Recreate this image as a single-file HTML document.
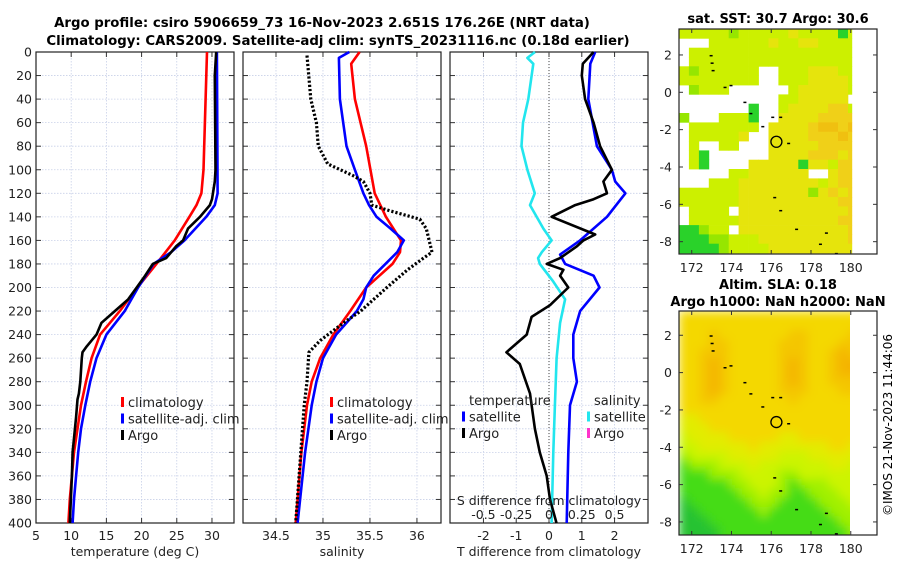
<!DOCTYPE html>
<html><head><meta charset="utf-8"><style>
html,body{margin:0;padding:0;background:#fff}
svg{display:block;font-family:"DejaVu Sans","Liberation Sans",sans-serif}
</style></head><body>
<svg id="fig" width="900" height="580" viewBox="0 0 900 580" xmlns="http://www.w3.org/2000/svg">
<defs>
<filter id="blur" x="-5%" y="-5%" width="110%" height="110%"><feGaussianBlur stdDeviation="5"/></filter>
<clipPath id="slaclip"><rect x="679" y="311" width="171" height="224"/></clipPath>
</defs>
<text x="322" y="27" text-anchor="middle" font-size="13.3" font-weight="bold">Argo profile: csiro 5906659_73 16-Nov-2023 2.651S 176.26E (NRT data)</text>
<text x="338" y="45" text-anchor="middle" font-size="13.3" font-weight="bold">Climatology: CARS2009. Satellite-adj clim: synTS_20231116.nc (0.18d earlier)</text>
<text x="778" y="23" text-anchor="middle" font-size="13" font-weight="bold">sat. SST: 30.7 Argo: 30.6</text>
<text x="778" y="289" text-anchor="middle" font-size="13" font-weight="bold">Altim. SLA: 0.18</text>
<text x="778" y="306" text-anchor="middle" font-size="13" font-weight="bold">Argo h1000: NaN h2000: NaN</text>
<text transform="translate(892,425) rotate(-90)" text-anchor="middle" font-size="12">©IMOS 21-Nov-2023 11:44:06</text>
<g id="g"></g>
</svg>
<script>
// ---- data ----
const depthTicks=[0,20,40,60,80,100,120,140,160,180,200,220,240,260,280,300,320,340,360,380,400];
const tTicks=[5,10,15,20,25,30];
const sTicks=[34.5,35,35.5,36];
const dTTicks=[-2,-1,0,1,2];
const dSTicks=[-0.5,-0.25,0,0.25,0.5];
const climTDepth=[0,100,120,130,140,160,180,200,220,240,260,280,300,320,340,360,380,400];
const climT=[29.3,28.8,28.5,27.8,26.8,24.7,22.1,19.4,16.9,14.1,12.9,12.1,11.4,10.9,10.4,10.1,9.8,9.6];
const satTDepth=[0,120,130,140,160,170,180,200,220,240,260,280,300,320,340,360,380,400];
const satT=[30.7,30.8,30.4,29.2,26.1,24.2,21.7,19.5,17.6,15.0,13.6,12.7,12.0,11.4,11.0,10.7,10.4,10.2];
const argoTDepth=[0,20,100,110,125,130,140,150,160,165,175,180,190,200,210,220,230,240,250,255,260,280,290,295,310,340,360,400];
const argoT=[30.6,30.4,30.5,30.4,30.0,29.7,28.3,26.6,25.9,24.9,23.5,21.6,20.5,19.3,18.1,16.2,14.3,13.6,12.2,11.6,11.5,11.3,11.1,10.9,10.7,10.2,10.1,9.8];
const climSDepth=[0,10,40,80,120,140,160,170,180,190,200,220,240,260,280,300,340,400];
const climS=[35.39,35.30,35.34,35.46,35.55,35.67,35.83,35.82,35.74,35.60,35.46,35.29,35.11,34.97,34.88,34.83,34.77,34.71];
const satSDepth=[0,5,40,80,100,120,130,140,150,160,170,190,200,210,220,240,260,280,300,340,400];
const satS=[35.28,35.17,35.18,35.25,35.34,35.43,35.49,35.57,35.72,35.86,35.79,35.54,35.46,35.43,35.36,35.14,35.00,34.93,34.88,34.81,34.73];
const argoSDepth=[3,40,60,80,95,105,110,120,130,135,142,150,170,175,185,200,220,230,245,255,280,300,400];
const argoS=[34.83,34.87,34.93,34.95,35.05,35.32,35.43,35.5,35.52,35.72,36.03,36.1,36.16,36.07,35.9,35.68,35.40,35.22,34.97,34.85,34.83,34.8,34.71];
const dSDepth=[0,5,10,40,60,80,100,120,130,150,160,170,175,180,195,210,230,260,300,340,400];
const dS=[-0.107,-0.165,-0.12,-0.158,-0.198,-0.21,-0.165,-0.108,-0.145,-0.043,0.02,-0.055,-0.083,-0.07,0.033,0.123,0.085,0.058,0.045,0.033,0.02];
const dTsatDepth=[0,10,40,80,100,110,120,140,160,172,180,190,200,220,240,260,280,300,340,400];
const dTsat=[1.41,1.26,1.2,1.46,1.92,2.02,2.33,1.77,0.95,0.34,0.49,1.36,1.54,0.95,0.74,0.74,0.85,0.64,0.59,0.54];
const dTargoDepth=[0,10,20,40,60,80,100,110,120,125,130,140,155,160,165,175,180,185,190,200,215,225,240,255,265,290,320,340,360,380,400];
const dTargo=[1.36,1.03,1.0,1.1,1.36,1.56,1.92,1.66,1.77,1.36,0.8,0.08,1.41,1.05,0.85,0.34,-0.07,0.44,0.34,0.59,0.03,-0.53,-0.68,-1.3,-0.89,-0.58,-0.43,-0.28,-0.07,0.03,0.23];
const lonTicks=[172,174,176,178,180];
const latTicks=[2,0,-2,-4,-6,-8];
const sstRows=["yyyyygyyyyyYyyyyGy","WWWyyyyyyYyyYYyyyy","Wyyyyyyyyyyyyyyyyy","Wyyyyyyyyyyyyyyyyy","ygyyyyyyWWyyyYYYyy","yyyyyyyyWWyyyYYYYy","WgyyyWWWWWWyYYYYYy","WWWWWWWWWWyyYYYYYW","WWWWWWWGWWyYYYYooy","gWWWyyyGWWYYYYoooo","WyyyyyyyWYYYYoOOoO","WyyyyyYWWYYYYoooOo","WyWWyyWWWYYYYYoooo","WyGWWWWWWYYYYoooYo","WyGWWWWYYYYYGYYyoo","WWWWWyyYYYYYYWWYoo","WWWyyyYYYYYYYYyYoo","yyyyyyYYYYYYYgYoYo","yyyyyyYYYYYYYYYYoo","WyyyyWYYYYYYYYYYYo","WyyyyyYYYYYYYYYYoo","GGgyyWYYYYYYYYYYYo","GGGggyyyYYYYYYYYYo","GGGGgyyyyYYYYYYYYY"];
const slaRows=["YYYYYYYYYYYYYYYYYY","YYYYYYYYYYYYYYYYYY","YYYoYYYYYYYooYYYYo","YYYooYYYYYoooYYYoo","YYoooYYYYYoooYYoOo","YYoOoYYYYYoOoYYoOO","YYoOoYYYYYoOoYYoOO","YYoOoYYYYYoOoYYooo","YYoOoYYYYYoooYYYoo","YYooYYYYYYYoYYYYYY","YYYYYYYYYYYYYYYYYY","yyYYYYYYYYYYYYYYYY","yyyYYYYYYYYYYYYYYY","lyyyyYYYYYyyYYYYYY","llyyyyyYyyyyyyyYYy","gllllyyyyylllyyyyy","Gggglllylllllllyyl","GGGgggllllgglllll","GGGGGgglllgGggglll","GGGGGGgglggGGgggll","DGGGGGGgggGGGGgggl","DDGGGGGGgGGGGGGggg","DDDGGGGGGGGGGGGGgg","DDDDGGGGGGGGGGGGGg"];
const argoLon=176.26, argoLat=-2.65;
// ---- helpers ----
const NS="http://www.w3.org/2000/svg";const G=document.getElementById('g');
function el(t,a,p){const e=document.createElementNS(NS,t);for(const k in a)e.setAttribute(k,a[k]);(p||G).appendChild(e);return e;}
const yTop=52,yBot=523;const yD=d=>yTop+d*(yBot-yTop)/400;
function panel(x0,x1,xmin,xmax,name){
  const sx=v=>x0+(v-xmin)/(xmax-xmin)*(x1-x0);
  const g=el('g',{});
  return {sx,g,x0,x1};
}
function frameAndGrid(P,xt,label,showDepth){
  for(const d of depthTicks){const y=yD(d);
    const l=el('line',{x1:P.x0,x2:P.x1,y1:y,y2:y,stroke:'#c8d0e8','stroke-width':0.8,'stroke-dasharray':'1.5,1.5'},P.g);
    el('line',{x1:P.x0,x2:P.x0+5,y1:y,y2:y,stroke:'#333'},P.g);el('line',{x1:P.x1-5,x2:P.x1,y1:y,y2:y,stroke:'#333'},P.g);
    if(showDepth){const t=el('text',{x:P.x0-4,y:y+4.5,'text-anchor':'end','font-size':12.5,fill:'#222'},P.g);t.textContent=d;}
  }
  for(const v of xt){const x=P.sx(v);
    const l=el('line',{x1:x,x2:x,y1:yTop,y2:yBot,stroke:'#c8d0e8','stroke-width':0.8,'stroke-dasharray':'1.5,1.5'},P.g);
    el('line',{x1:x,x2:x,y1:yBot,y2:yBot-5,stroke:'#333'},P.g);el('line',{x1:x,x2:x,y1:yTop,y2:yTop+5,stroke:'#333'},P.g);
    const t=el('text',{x:x,y:yBot+17,'text-anchor':'middle','font-size':12.5,fill:'#222'},P.g);t.textContent=v;
  }
  const r=el('rect',{x:P.x0,y:yTop,width:P.x1-P.x0,height:yBot-yTop,fill:'none',stroke:'#222','stroke-width':1.2},P.g);
  const t=el('text',{x:(P.x0+P.x1)/2,y:556,'text-anchor':'middle','font-size':12.5,fill:'#222'},P.g);t.textContent=label;
}
function line(P,vals,depths,color,name,dash,sxf){
  const f=sxf||P.sx;let d='';vals.forEach((v,i)=>{d+=(i?'L':'M')+f(v).toFixed(1)+','+yD(depths[i]).toFixed(1);});
  const p=el('path',{d:d,fill:'none',stroke:color,'stroke-width':dash?3.2:2.6,'stroke-linejoin':'round'},P.g);
  if(dash)p.setAttribute('stroke-dasharray',dash);
  
}
function legend(P,x,y,items){
  items.forEach((it,i)=>{const yy=y+i*16.5;
    const g=el('g',{},P.g);
    
    
    if(it[0])el('rect',{x:x,y:yy-10,width:3,height:10,fill:it[0]},g);
    const t=el('text',{x:x+7,y:yy,'font-size':13,fill:'#222'},g);t.textContent=it[1];});
}
// panel 1 temperature
const P1=panel(36,234,5,33.13,'temperature-panel');
frameAndGrid(P1,tTicks,'temperature (deg C)',true);
line(P1,climT,climTDepth,'#ff0000','climatology-temperature-line');
line(P1,satT,satTDepth,'#0000ff','satellite-temperature-line');
line(P1,argoT,argoTDepth,'#000000','argo-temperature-line');
legend(P1,121,407,[['#f00','climatology'],['#00f','satellite-adj. clim'],['#000','Argo']]);
// panel 2 salinity
const P2=panel(243,441,34.149,36.256,'salinity-panel');
frameAndGrid(P2,sTicks,'salinity',false);
line(P2,climS,climSDepth,'#ff0000','climatology-salinity-line');
line(P2,satS,satSDepth,'#0000ff','satellite-salinity-line');
line(P2,argoS,argoSDepth,'#000000','argo-salinity-line','2.2,2');
legend(P2,330,407,[['#f00','climatology'],['#00f','satellite-adj. clim'],['#000','Argo']]);
// panel 3 differences
const P3=panel(450,648,-3.02,3.02,'difference-panel');
frameAndGrid(P3,dTTicks,'T difference from climatology',false);
const zx=P3.sx(0);const z=el('line',{x1:zx,x2:zx,y1:yTop,y2:yBot,stroke:'#444','stroke-width':1,'stroke-dasharray':'1,2'},P3.g);
const sS=v=>P3.sx(v*4);
line(P3,dS,dSDepth,'#22e6ee','salinity-satellite-diff-line',null,sS);
line(P3,dTsat,dTsatDepth,'#0000ff','temperature-satellite-diff-line');
line(P3,dTargo,dTargoDepth,'#000000','temperature-argo-diff-line');
legend(P3,462,405,[[null,'temperature'],['#00f','satellite'],['#000','Argo']]);
legend(P3,587,405,[[null,'salinity'],['#22e6ee','satellite'],['#ff33cc','Argo']]);
{const t=el('text',{x:549,y:505,'text-anchor':'middle','font-size':12.5,fill:'#222'},P3.g);t.textContent='S difference from climatology';
for(const v of dSTicks){const u=el('text',{x:sS(v),y:519,'text-anchor':'middle','font-size':12.5,fill:'#222'},P3.g);u.textContent=v;}}
// maps
const C={W:'#ffffff',G:'#2ad22a',g:'#96e600',y:'#ccf000',Y:'#e6e40c',o:'#f0d018',O:'#f0c010',l:'#b8f200',D:'#18b830'};
const C2={Y:'#f4d800',o:'#f4c600',O:'#f4b400',y:'#e2ec00',l:'#ccf400',g:'#a0f000',G:'#44dc18',D:'#26c232'};
function map(x0,x1,y0,y1,latTop,latBot,rows,cols,name,smooth){
  const lonMin=171.36,lonMax=181.32;
  const sx=v=>x0+(v-lonMin)/(lonMax-lonMin)*(x1-x0);const sy=v=>y0+(latTop-v)/(latTop-latBot)*(y1-y0);
  const g=el('g',{});
  const wrap=el('g',{},g);if(smooth)wrap.setAttribute('clip-path','url(#slaclip)');
  const cg=el('g',{},wrap);if(smooth)cg.setAttribute('filter','url(#blur)');
  
  rows.forEach((r,i)=>{for(let j=0;j<r.length;j++){const ch=r[j];if(ch==='W')continue;
    const la=latTop-i*0.5,lo=lonMin+j*0.5;let loE=Math.min(lo+0.5,180.05);
    let la2=Math.max(la-0.5,latBot);
    if(smooth){if(j===r.length-1)loE=180.6; if(i===rows.length-1)la2=latBot-0.6;}
    const xa=sx(lo),xb=sx(loE),ya=sy(la),yb=sy(la2);
    el('rect',{x:xa.toFixed(1),y:ya.toFixed(1),width:(xb-xa+0.4).toFixed(1),height:(yb-ya+0.4).toFixed(1),fill:cols[ch]},cg);}});
  const coast=[[172.9,2.0],[172.95,1.6],[173.0,1.2],[173.6,0.3],[173.9,0.4],[174.6,-0.5],[174.9,-1.1],[175.5,-1.8],[176.0,-1.3],[176.4,-1.3],[176.1,-5.6],[176.4,-6.3],[177.2,-7.3],[178.4,-8.1],[178.7,-7.5],[179.2,-8.6],[176.8,-2.7]];
  for(const c of coast){el('rect',{x:sx(c[0]),y:sy(c[1]),width:3,height:1.5,fill:'#000'},g);}
  const ci=el('circle',{cx:sx(argoLon),cy:sy(argoLat),r:5.5,fill:'none',stroke:'#000','stroke-width':1.3},g);
  const fr=el('rect',{x:x0,y:y0,width:x1-x0,height:y1-y0,fill:'none',stroke:'#222','stroke-width':1.2},g);
  for(const v of lonTicks){const x=sx(v);el('line',{x1:x,x2:x,y1:y1,y2:y1-4,stroke:'#333'},g);el('line',{x1:x,x2:x,y1:y0,y2:y0+4,stroke:'#333'},g);
    const t=el('text',{x:x,y:y1+18,'text-anchor':'middle','font-size':12.5,fill:'#222'},g);t.textContent=v;}
  for(const v of latTicks){const y=sy(v);el('line',{x1:x0,x2:x0+4,y1:y,y2:y,stroke:'#333'},g);el('line',{x1:x1,x2:x1-4,y1:y,y2:y,stroke:'#333'},g);
    const t=el('text',{x:x0-7,y:y+4.5,'text-anchor':'end','font-size':12.5,fill:'#222'},g);t.textContent=v;}
}
map(679,877,29,254,3.39,-8.66,sstRows,C,'sst-map',false);
map(679,877,311,535,3.3,-8.7,slaRows,C2,'sla-map',true);
</script>
</body></html>
